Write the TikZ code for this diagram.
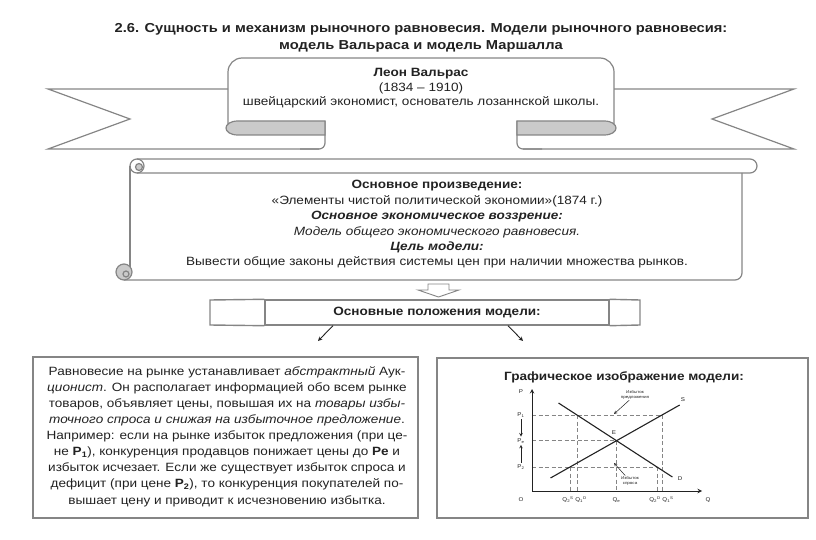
\documentclass[tikz,border=0pt]{standalone}
\usepackage{fontspec}
\setmainfont{Liberation Sans}[FakeStretch=1.13]
\usetikzlibrary{positioning}
\definecolor{ink}{HTML}{222222}
\definecolor{edge}{HTML}{858585}
\definecolor{fold}{HTML}{CACACA}

\tikzset{
  outline/.style={draw=edge, line width=1.2pt},
  boxframe/.style={draw=edge, line width=1.4pt},
  bodytext/.style={font=\fontsize{12}{14.5}\selectfont, align=center},
  guide/.style={draw=edge, line width=0.8pt, dash pattern=on 4pt off 2.5pt},
  axislabel/.style={font=\fontsize{5.5}{6}\selectfont, inner sep=1.5pt},
  notelabel/.style={font=\fontsize{4}{4.5}\selectfont, align=center, inner sep=1pt}
}

\begin{document}
\begin{tikzpicture}[x=1pt, y=-1pt, >=stealth, every node/.style={text=ink, inner sep=0pt}]
\useasboundingbox (0,0) rectangle (816,540);

\node[font=\bfseries\fontsize{13}{17}\selectfont, align=center] (title) at (421,37.5)
  {2.6. Сущность и механизм рыночного равновесия. Модели рыночного равновесия:\\модель Вальраса и модель Маршалла};

% ribbon
\draw[outline, rounded corners=14pt] (228,128) -- (228,58) -- (614,58) -- (614,128);
\draw[outline] (228,89) -- (48,89) -- (130,119) -- (48,149) -- (319,149);
\draw[outline, rounded corners=6pt] (300,149) -- (325,149) -- (325,121);
\filldraw[outline, fill=fold] (325,121) -- (238,121) .. controls (222,121) and (222,135) .. (238,135) -- (325,135) -- cycle;
\draw[outline] (614,89) -- (794,89) -- (712,119) -- (794,149) -- (523,149);
\draw[outline, rounded corners=6pt] (542,149) -- (517,149) -- (517,121);
\filldraw[outline, fill=fold] (517,121) -- (604,121) .. controls (620,121) and (620,135) .. (604,135) -- (517,135) -- cycle;
\node[bodytext] (walras) at (421,88.5)
  {\textbf{Леон Вальрас}\\(1834 – 1910)\\швейцарский экономист, основатель лозаннской школы.};

% scroll
\draw[outline, rounded corners=7pt] (137,159) -- (757,159) -- (757,173) -- (137,173);
\draw[outline] (137,166) circle[radius=7];
\filldraw[outline, fill=fold] (139,167) circle[radius=3.5];
\draw[outline] (130,166) -- (130,272);
\draw[outline, rounded corners=7pt] (742,173) -- (742,280) -- (124,280);
\filldraw[outline, fill=fold] (124,272) circle[radius=8];
\draw[outline] (126,274) circle[radius=3];
\node[bodytext, font=\fontsize{12}{15.4}\selectfont] (walraswork) at (437,224.5)
  {\textbf{Основное произведение:}\\
   «Элементы чистой политической экономии»(1874 г.)\\
   \textbf{\textit{Основное экономическое воззрение:}}\\
   \textit{Модель общего экономического равновесия.}\\
   \textbf{\textit{Цель модели:}}\\
   Вывести общие законы действия системы цен при наличии множества рынков.};

\draw[outline, line width=0.9pt, fill=white] (428,284) -- (449,284) -- (449,290) -- (459,290) -- (438.5,297) -- (418,290) -- (428,290) -- cycle;

\node[boxframe, minimum width=344pt, minimum height=25pt, font=\bfseries\fontsize{12}{14}\selectfont] (basics) at (437,312.5) {Основные положения модели:};
\draw[boxframe] (basics.north west) -- (210,300) -- (210,325) -- (basics.south west);
\draw[boxframe] (basics.north east) -- (640,300) -- (640,325) -- (basics.south east);

\coordinate (leftend) at (318,341);
\coordinate (rightend) at (523,341);
\draw[->, ink, line width=0.9pt] ([xshift=-104pt]basics.south) -- (leftend);
\draw[->, ink, line width=0.9pt] ([xshift=71pt]basics.south) -- (rightend);

% auctioneer
\node[boxframe, minimum width=385pt, minimum height=161pt] (auction) at (225.5,437.5) {};
\node[bodytext, font=\fontsize{12}{16.1}\selectfont] (auctiontext) at (227,436.5)
  {Равновесие на рынке устанавливает \textit{абстрактный} Аук-\\
   \textit{ционист}. Он располагает информацией обо всем рынке\\
   товаров, объявляет цены, повышая их на \textit{товары избы-}\\
   \textit{точного спроса и снижая на избыточное предложение}.\\
   Например: если на рынке избыток предложения (при це-\\
   не \textbf{P\textsubscript{1}}), конкуренция продавцов понижает цены до \textbf{Pe} и\\
   избыток исчезает. Если же существует избыток спроса и\\
   дефицит (при цене \textbf{P\textsubscript{2}}), то конкуренция покупателей по-\\
   вышает цену и приводит к исчезновению избытка.};

% graph
\node[boxframe, minimum width=371pt, minimum height=160pt] (graphbox) at (622.5,438) {};
\node[font=\bfseries\fontsize{12}{14}\selectfont] (graphtitle) at (624,377) {Графическое изображение модели:};

\begin{scope}[xshift=-8pt]
\coordinate (O) at (540,491);
\coordinate (ptop) at (540,389);
\coordinate (qend) at (710,491);
\coordinate (E) at (624.5,440.7);
\coordinate (s1) at (670,415);
\coordinate (d1) at (585,415);
\coordinate (s2) at (578,467);
\coordinate (d2) at (665,467);
\coordinate (Sa) at (558.5,478);
\coordinate (Sb) at (687.7,405);
\coordinate (Da) at (566.5,403);
\coordinate (Db) at (680.4,477);

\draw[guide] (O |- s1) -- (s1);
\draw[guide] (O |- E) -- (E);
\draw[guide] (O |- d2) -- (d2);
\draw[guide] (s2) -- (s2 |- O);
\draw[guide] (d1) -- (d1 |- O);
\draw[guide] (E) -- (E |- O);
\draw[guide] (d2) -- (d2 |- O);
\draw[guide] (s1) -- (s1 |- O);

\draw[->, ink, line width=1pt] (O) -- (ptop);
\draw[->, ink, line width=1pt] (O) -- (qend);
\draw[ink, line width=1.1pt] (Sa) -- (Sb);
\draw[ink, line width=1.1pt] (Da) -- (Db);

\node[axislabel] (plabel) at (529,392) {P};
\node[axislabel] (p1label) at (529,415) {P\textsubscript{1}};
\node[axislabel] (pelabel) at (529,440.7) {P\textsubscript{e}};
\node[axislabel] (p2label) at (529,467) {P\textsubscript{2}};
\draw[->, ink, line width=0.6pt] (p1label) -- (pelabel);
\draw[->, ink, line width=0.6pt] (p2label) -- (pelabel);
\node[axislabel] (olabel) at (529,500) {O};
\node[axislabel] (qlabel) at (716,500) {Q};
\node[axislabel] (q2s) at (576,500) {Q\textsubscript{2}\textsuperscript{S}};
\node[axislabel] (q1d) at (589,500) {Q\textsubscript{1}\textsuperscript{D}};
\node[axislabel] (qelabel) at (624.5,500) {Q\textsubscript{e}};
\node[axislabel] (q2d) at (663,500) {Q\textsubscript{2}\textsuperscript{D}};
\node[axislabel] (q1s) at (676,500) {Q\textsubscript{1}\textsuperscript{S}};
\node[axislabel] (elabel) at (622,433) {E};
\node[axislabel] (slabel) at (691,400) {S};
\node[axislabel] (dlabel) at (688,479) {D};

\node[notelabel] (excesssupply) at (643,395) {Избыток\\предложения};
\coordinate (supplyend) at (622,414);
\draw[->, ink, line width=0.5pt] (excesssupply) -- (supplyend);
\node[notelabel] (excessdemand) at (638,481) {Избыток\\спроса};
\coordinate (demandend) at (622,463);
\draw[->, ink, line width=0.5pt] (excessdemand) -- (demandend);
\end{scope}
\end{tikzpicture}
\end{document}
